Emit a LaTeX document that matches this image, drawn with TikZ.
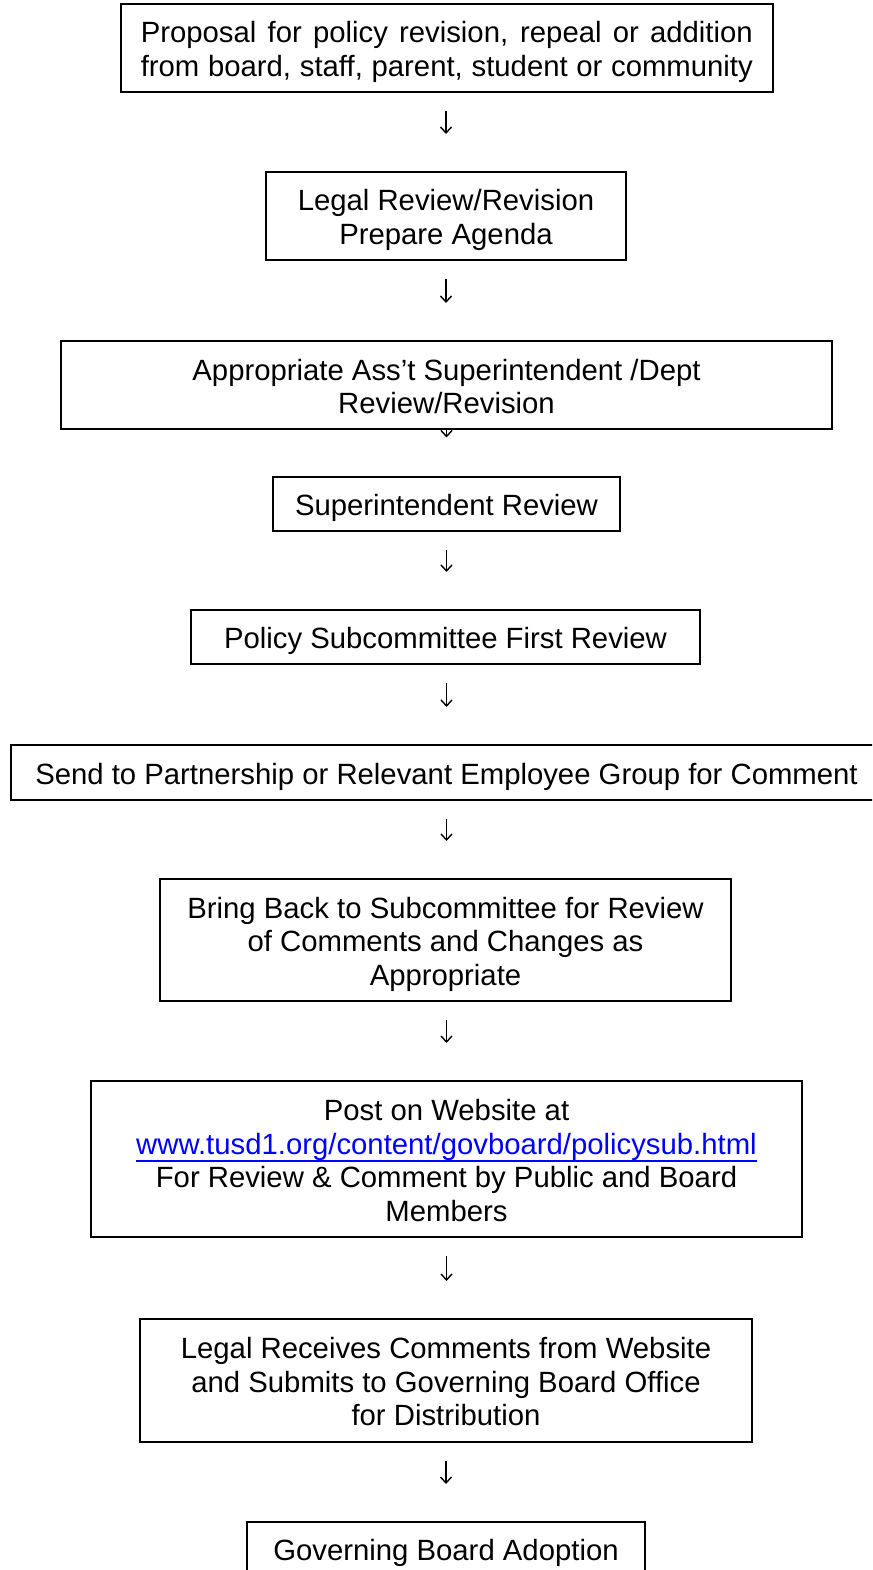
\documentclass[tikz,border=0pt]{standalone}
\usepackage{fontspec}
\setmainfont{Liberation Sans}
\usetikzlibrary{arrows.meta}
\definecolor{linkblue}{RGB}{0,0,255}
\newcommand\ulink[1]{\setbox0\hbox{#1}\rlap{\rule[-8pt]{\wd0}{1.8pt}}\box0}
\newcommand\ts{\rule{0pt}{30pt}}
\newcommand\bs{\rule[-6.5pt]{0pt}{6.5pt}}
\begin{document}
\begin{tikzpicture}[x=1pt,y=-1pt,
  box/.style={draw=black,line width=2pt,fill=white,inner sep=0pt,align=center,
    font=\fontsize{29.3}{33.5}\selectfont},
  flow/.style={line width=1.4pt,-{Straight Barb[length=6pt,width=11pt,line width=1.4pt]},
    shorten <=18pt,shorten >=37pt}]
\clip (0,0) rectangle (872,1570);
\fill[white] (0,0) rectangle (872,1570);
\node[box,minimum width=652,minimum height=88] (b1) at (446.8,48)
  {\ts\makebox[612pt][s]{Proposal for policy revision, repeal or addition}\\
   \makebox[612pt][s]{from board, staff, parent, student or community}\bs};
\node[box,minimum width=360,minimum height=88] (b2) at (446,216)
  {\ts Legal Review/Revision\\Prepare Agenda\bs};
\node[box,minimum width=771,minimum height=88] (b3) at (446.5,385)
  {\ts Appropriate Ass’t Superintendent /Dept\\Review/Revision\bs};
\node[box,minimum width=347,minimum height=54] (b4) at (446.5,503.5)
  {\ts Superintendent Review\bs};
\node[box,minimum width=509,minimum height=54] (b5) at (445.5,637)
  {\ts Policy Subcommittee First Review\bs};
\node[box,minimum width=871,minimum height=55] (b6) at (446.5,772.5)
  {\ts Send to Partnership or Relevant Employee Group for Comment\bs};
\node[box,minimum width=571,minimum height=122] (b7) at (445.5,940)
  {\ts Bring Back to Subcommittee for Review\\of Comments and Changes as\\Appropriate\bs};
\node[box,minimum width=711,minimum height=156] (b8) at (446.5,1159)
  {\ts Post on Website at\\
   \textcolor{linkblue}{\ulink{www.tusd1.org/content/govboard/policysub.html}}\\
   For Review \& Comment by Public and Board\\Members\bs};
\node[box,minimum width=612,minimum height=123] (b9) at (446,1380.5)
  {\ts Legal Receives Comments from Website\\and Submits to Governing Board Office\\for Distribution\bs};
\node[box,minimum width=398,minimum height=54] (b10) at (446,1549)
  {\ts Governing Board Adoption\bs};
\draw[flow] (b1.south -| b2.north) -- (b2.north);
\draw[flow] (b2.south) -- (b2.south |- b3.north);
\draw[flow,shorten <=0pt,shorten >=38pt] (b3.south) -- (b3.south |- b4.north);
\draw[flow] (b4.south) -- (b4.south |- b5.north);
\draw[flow] (b5.south -| b4.south) -- (b4.south |- b6.north);
\draw[flow] (b6.south) -- (b6.south |- b7.north);
\draw[flow] (b7.south -| b6.south) -- (b6.south |- b8.north);
\draw[flow] (b8.south) -- (b8.south |- b9.north);
\draw[flow] (b9.south) -- (b9.south |- b10.north);
\end{tikzpicture}
\end{document}
